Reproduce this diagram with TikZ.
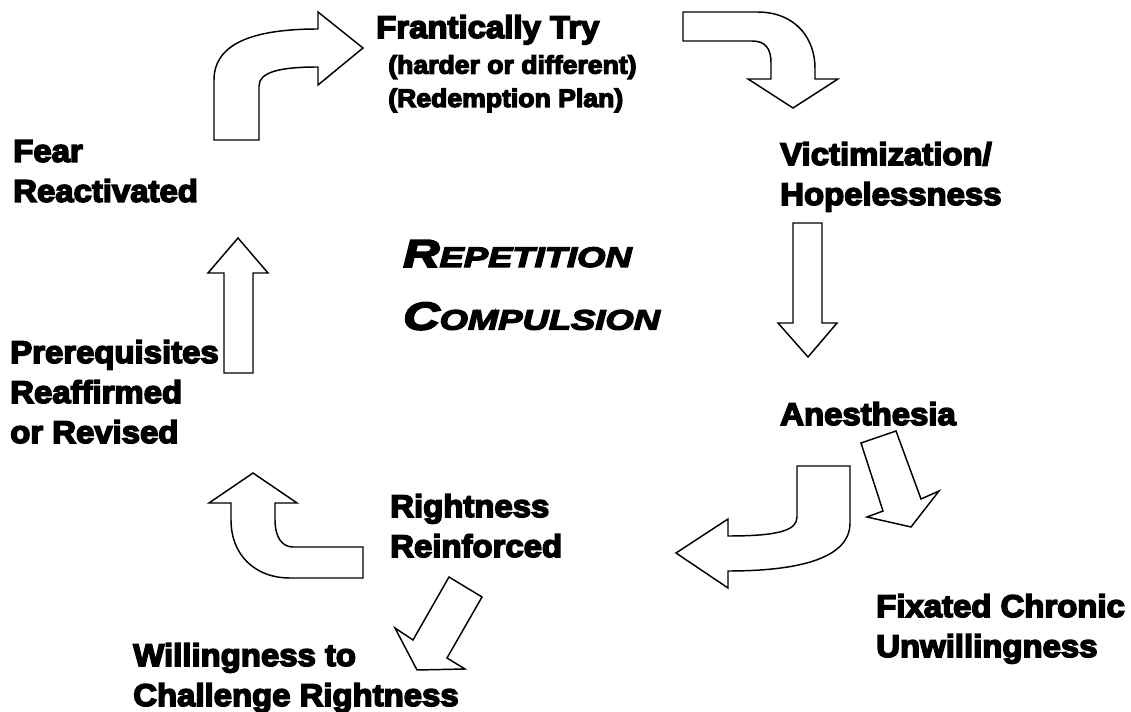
\documentclass[tikz,border=0pt]{standalone}
\usepackage{fontspec}
\usepackage{tikz}
\usetikzlibrary{positioning}
\newfontfamily\heavyfont{Liberation Sans}[UprightFont={* Bold}, ItalicFont={* Bold Italic}, FakeBold=5, FakeStretch=1.05]
\newfontfamily\titlefont{Liberation Sans}[UprightFont={* Bold Italic}, FakeBold=5, FakeStretch=1.3]
\newcommand{\bigsc}[2]{{\fontsize{29}{47}\selectfont #1}{\fontsize{21}{47}\selectfont #2}}

\tikzset{
  blockarrow/.style={draw, line width=1.1pt, fill=white, line join=miter},
  stage/.style={anchor=north west, inner sep=0pt, align=left, font=\heavyfont\fontsize{23.5}{30}\selectfont},
  stagenote/.style={anchor=north west, inner sep=0pt, align=left, font=\heavyfont\fontsize{19}{25}\selectfont}
}

\begin{document}
\begin{tikzpicture}[x=0.75pt, y=-0.75pt]
            \useasboundingbox (0,0) rectangle (1131,712);

            % block arrows round the cycle
            \draw[blockarrow] (214,140) -- (214,80) .. controls (214,45) and (250,29) .. (318,29) -- (318,12) -- (363,48) -- (318,85) -- (318,67) .. controls (280,67) and (259,72) .. (259,86) -- (259,140) -- cycle;
            \draw[blockarrow] (683,12) -- (757,12) .. controls (797,12) and (815,40) .. (815,68) -- (815,79) -- (838,79) -- (793,108) -- (748,79) -- (771,79) -- (771,63) .. controls (771,48) and (765,41) .. (752,41) -- (683,41) -- cycle;
            \draw[blockarrow] (793,223) -- (822,223) -- (822,323) -- (837,323) -- (808,357) -- (778,323) -- (793,323) -- cycle;
            \draw[blockarrow] (797,466) -- (850,466) -- (850,523) .. controls (850,558) and (800,571) .. (728,571) -- (728,588) -- (676,553) -- (728,519) -- (728,536) .. controls (780,536) and (797,530) .. (797,517) -- cycle;
            \draw[blockarrow] (861,443) -- (896,431) -- (921,499) -- (939,491) -- (911,527) -- (867,517) -- (883,511) -- cycle;
            \draw[blockarrow] (363,547) -- (363,578) -- (290,578) .. controls (255,578) and (231,555) .. (231,520) -- (231,503) -- (209,503) -- (253,473) -- (297,503) -- (275,503) -- (275,520) .. controls (275,537) and (282,547) .. (293,547) -- cycle;
            \draw[blockarrow] (449,577) -- (482,597) -- (447,658) -- (465,669) -- (417,670) -- (395,628) -- (413,640) -- cycle;
            \draw[blockarrow] (224,373) -- (224,273) -- (208,273) -- (238,238) -- (268,273) -- (253,273) -- (253,373) -- cycle;

            % stages
            \node[stage] (try) at (376,15) {Frantically Try};
            \node[stagenote] (trynote) at (388,55) {(harder or different)\\(Redemption Plan)};
            \node[stage] (victim) at (780,142) {Victimization/\\Hopelessness};
            \node[stage] (anesthesia) at (780,402) {Anesthesia};
            \node[stage] (fixated) at (876,594) {Fixated Chronic\\Unwillingness};
            \node[stage] (right) at (390,494) {Rightness\\Reinforced};
            \node[stage] (willing) at (133,643) {Willingness to\\Challenge Rightness};
            \node[stage] (prereq) at (10,340) {Prerequisites\\Reaffirmed\\or Revised};
            \node[stage] (fear) at (13,140) {Fear\\Reactivated};

            % title in the middle
            \node[stage, font=\titlefont\fontsize{21}{47}\selectfont] (title) at (403,240) {\bigsc{R}{EPETITION}\\\bigsc{C}{OMPULSION}};
        \end{tikzpicture}
\end{document}
